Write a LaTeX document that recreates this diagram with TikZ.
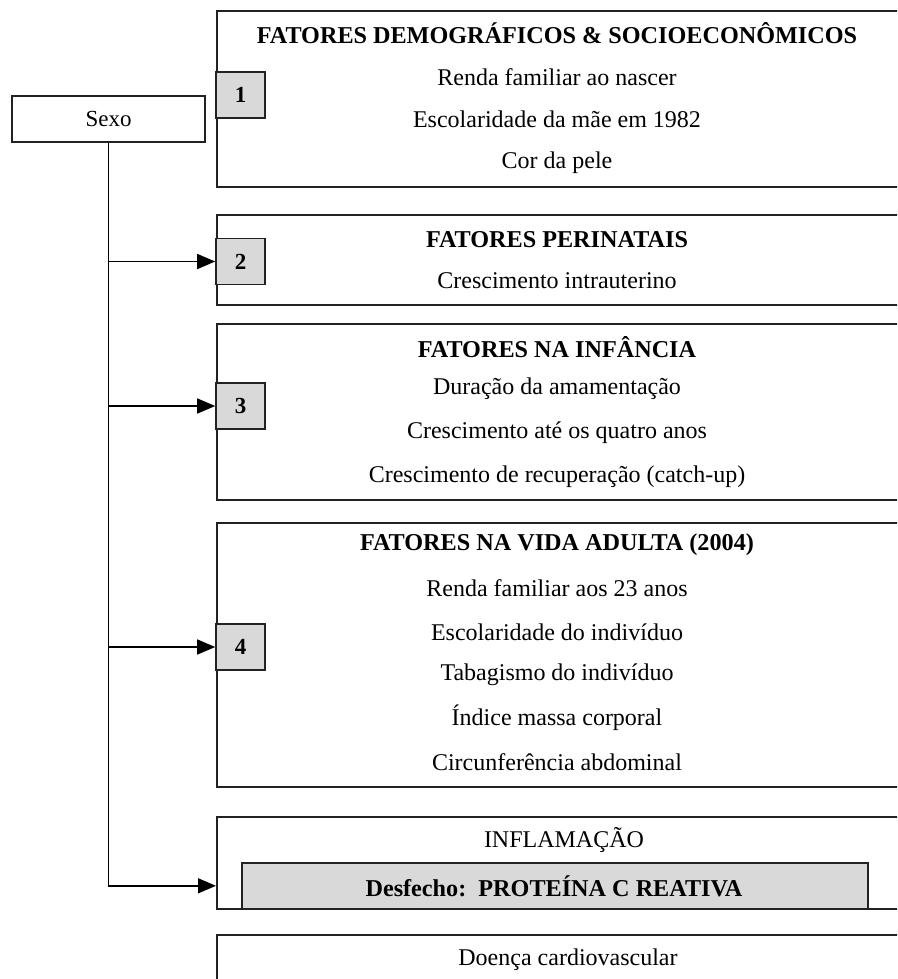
\documentclass[tikz,border=0pt]{standalone}
\usepackage{fontspec}
\setmainfont{Liberation Serif}
\usetikzlibrary{arrows.meta}
\definecolor{badgegray}{HTML}{D9D9D9}
\definecolor{edge}{HTML}{222222}
\tikzset{
  frame/.style={draw=edge, line width=1.6pt, fill=white, inner sep=0pt, anchor=north west},
  badge/.style={draw=edge, line width=1.6pt, fill=badgegray, inner sep=0pt, minimum width=49pt, minimum height=46pt, font=\fontsize{23}{27}\selectfont\bfseries},
  txt/.style={inner sep=0pt, font=\fontsize{24}{28}\selectfont},
  ttl/.style={inner sep=0pt, font=\fontsize{24.2}{28}\selectfont\bfseries},
  conn/.style={draw=black, line width=1.5pt},
  arr/.style={conn, -{Triangle[length=18pt,width=15pt]}}
}
\begin{document}
\begin{tikzpicture}[x=1pt,y=-1pt]
\useasboundingbox (0,0) rectangle (897,979);
\clip (0,0) rectangle (897,979);
\fill[white] (0,0) rectangle (897,979);

% main boxes
\node[frame, minimum width=684pt, minimum height=176pt] (box1) at (216,10) {};
\node[frame, minimum width=684pt, minimum height=90pt] (box2) at (216,214) {};
\node[frame, minimum width=684pt, minimum height=176pt] (box3) at (216,323) {};
\node[frame, minimum width=684pt, minimum height=264pt] (box4) at (216,522) {};
\node[frame, minimum width=684pt, minimum height=92pt] (box5) at (216,816) {};
\node[frame, minimum width=684pt, minimum height=80pt] (box6) at (216,934) {};
\node[frame, fill=badgegray, minimum width=626pt, minimum height=46pt] (outcome) at (241,862) {};

% Sexo
\node[draw=edge, line width=1.6pt, inner sep=0pt, minimum width=193pt, minimum height=46pt, font=\fontsize{23}{27}\selectfont] (sexo) at (108.5,119) {Sexo};

% badges
\node[badge] (n1) at (240.5,95) {1};
\node[badge] (n2) at (240.5,261.5) {2};
\node[badge] (n3) at (240.5,406) {3};
\node[badge] (n4) at (240.5,647) {4};

% texts box 1
\node[ttl] (t1) at (557,33) {FATORES DEMOGRÁFICOS \& SOCIOECONÔMICOS};
\node[txt] (t1a) at (557,77) {Renda familiar ao nascer};
\node[txt] (t1b) at (557,119) {Escolaridade da mãe em 1982};
\node[txt] (t1c) at (557,163) {Cor da pele};
% box 2
\node[ttl] (t2) at (557,240) {FATORES PERINATAIS};
\node[txt] (t2a) at (557,281) {Crescimento intrauterino};
% box 3
\node[ttl] (t3) at (557,347) {FATORES NA INFÂNCIA};
\node[txt] (t3a) at (557,389) {Duração da amamentação};
\node[txt] (t3b) at (557,433) {Crescimento até os quatro anos};
\node[txt] (t3c) at (557,477) {Crescimento de recuperação (catch-up)};
% box 4
\node[ttl] (t4) at (557,545) {FATORES NA VIDA ADULTA (2004)};
\node[txt] (t4a) at (557,588) {Renda familiar aos 23 anos};
\node[txt] (t4b) at (557,632) {Escolaridade do indivíduo};
\node[txt] (t4c) at (557,675) {Tabagismo do indivíduo};
\node[txt] (t4d) at (557,718) {Índice massa corporal};
\node[txt] (t4e) at (557,762) {Circunferência abdominal};
% box 5
\node[txt] (t5) at (564,840) {INFLAMAÇÃO};
\node[ttl] (t5a) at (554,886) {Desfecho:\ \ PROTEÍNA C REATIVA};
% box 6
\node[txt] (t6) at (568,960) {Doença cardiovascular};

% connectors
\draw[arr] (sexo.south) |- (box5.west |- outcome.west);
\draw[arr] (sexo.south |- n2.west) -- (n2.west);
\draw[arr] (sexo.south |- n3.west) -- (n3.west);
\draw[arr] (sexo.south |- n4.west) -- (n4.west);
\end{tikzpicture}
\end{document}
